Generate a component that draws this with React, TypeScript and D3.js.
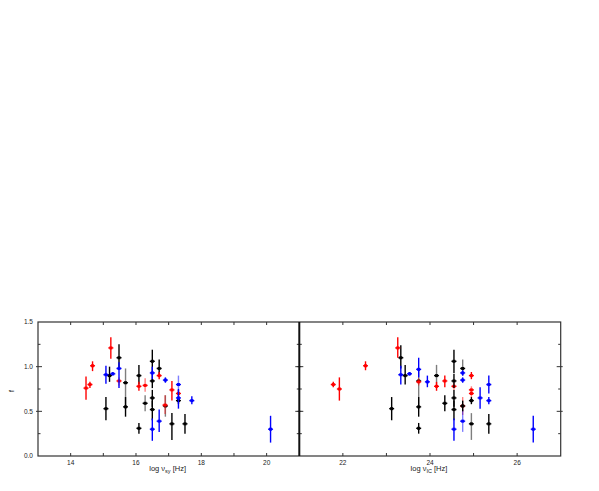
import React from 'react';
import * as d3 from 'd3';

// each point: [log nu, f, f low, f high]
type Pt = [number, number, number, number];

const syRed: Pt[] = [
  [14.47, 0.76, 0.63, 0.89], [14.59, 0.8, 0.76, 0.83], [14.67, 1.01, 0.95, 1.06],
  [15.23, 1.21, 1.09, 1.33], [16.09, 0.78, 0.73, 0.83], [16.71, 0.9, 0.86, 0.94],
  [17.1, 0.74, 0.62, 0.84], [17.3, 0.7, 0.66, 0.74],
];
const syRedFaded: Pt[] = [
  [15.48, 0.84, 0.79, 0.88], [16.28, 0.79, 0.72, 0.87], [16.89, 0.57, 0.47, 0.68],
];
const syBlack: Pt[] = [
  [15.08, 0.53, 0.4, 0.66], [15.19, 0.9, 0.83, 1.0], [15.48, 1.1, 0.98, 1.25],
  [15.68, 0.55, 0.44, 0.66], [16.09, 0.9, 0.8, 1.02], [16.09, 0.31, 0.25, 0.37],
  [16.5, 1.06, 0.93, 1.19], [16.5, 0.84, 0.76, 0.92], [16.5, 0.65, 0.55, 0.74],
  [16.5, 0.52, 0.4, 0.62], [16.71, 0.98, 0.9, 1.08], [17.1, 0.36, 0.18, 0.48],
  [17.3, 0.62, 0.58, 0.66], [17.5, 0.36, 0.25, 0.47],
];
const syBlackFaded: Pt[] = [
  [15.68, 0.82, 0.57, 0.98], [16.28, 0.59, 0.5, 0.68], [16.9, 0.56, 0.44, 0.68],
];
const syBlue: Pt[] = [
  [15.08, 0.91, 0.81, 1.01], [15.29, 0.92, 0.9, 0.94], [15.48, 0.98, 0.76, 1.05],
  [16.5, 0.93, 0.86, 1.0], [16.5, 0.3, 0.17, 0.42], [16.71, 0.39, 0.27, 0.52],
  [16.9, 0.85, 0.82, 0.88], [17.3, 0.65, 0.53, 0.75], [17.71, 0.62, 0.58, 0.67],
  [20.12, 0.3, 0.15, 0.45],
];
const syBlueFaded: Pt[] = [
  [17.3, 0.8, 0.7, 0.9],
];

const icRed: Pt[] = [
  [21.78, 0.8, 0.77, 0.83], [21.92, 0.75, 0.62, 0.88], [22.52, 1.01, 0.96, 1.06],
  [23.26, 1.21, 1.1, 1.33], [24.15, 0.78, 0.73, 0.83], [24.34, 0.84, 0.77, 0.9],
  [24.95, 0.9, 0.86, 0.94],
];
const icRedFaded: Pt[] = [
  [23.74, 0.83, 0.79, 0.87], [24.55, 0.78, 0.74, 0.82], [24.95, 0.74, 0.7, 0.78],
  [24.95, 0.7, 0.66, 0.74], [24.75, 0.56, 0.46, 0.66],
];
const icBlack: Pt[] = [
  [23.12, 0.53, 0.4, 0.66], [23.33, 1.1, 0.98, 1.24], [23.43, 0.9, 0.8, 1.02],
  [23.74, 0.55, 0.44, 0.66], [23.74, 0.31, 0.25, 0.37], [24.34, 0.59, 0.5, 0.68],
  [24.55, 1.06, 0.93, 1.19], [24.55, 0.84, 0.76, 0.92], [24.55, 0.65, 0.55, 0.74],
  [24.55, 0.52, 0.4, 0.62], [24.75, 0.56, 0.5, 0.62], [24.95, 0.62, 0.58, 0.66],
  [25.35, 0.36, 0.25, 0.47],
];
const icBlackFaded: Pt[] = [
  [23.74, 0.84, 0.57, 0.98], [24.15, 0.9, 0.8, 1.02], [24.75, 0.98, 0.9, 1.08],
  [24.95, 0.36, 0.18, 0.48],
];
const icBlue: Pt[] = [
  [23.33, 0.91, 0.8, 1.01], [23.53, 0.92, 0.9, 0.94], [23.74, 0.97, 0.88, 1.1],
  [23.94, 0.83, 0.77, 0.9], [24.55, 0.3, 0.17, 0.42], [24.75, 0.93, 0.9, 0.96],
  [24.75, 0.85, 0.82, 0.88], [25.15, 0.65, 0.53, 0.77], [25.35, 0.8, 0.7, 0.9],
  [25.35, 0.62, 0.58, 0.66], [26.37, 0.3, 0.15, 0.45],
];
const icBlueFaded: Pt[] = [
  [24.75, 0.39, 0.27, 0.52],
];

const syTicks = [14, 15, 16, 17, 18, 19, 20];
const syLabels = [14, 16, 18, 20];
const icTicks = [22, 23, 24, 25, 26];
const icLabels = [22, 24, 26];
const fTicks = [0.25, 0.5, 0.75, 1.0, 1.25];
const fLabels = [0.0, 0.5, 1.0, 1.5];

const top = 322;
const bottom = 456;
const yScale = d3.scaleLinear().domain([0, 1.5]).range([bottom, top]);
const axisColor = '#333';
const font = 'Liberation Sans, Arial, sans-serif';

// faded series: only the error bar is pale, the marker stays solid
const Series = ({ data, x, color, faded }: { data: Pt[]; x: d3.ScaleLinear<number, number>; color: string; faded?: boolean }) => (
  <g>
    {data.map((d, i) => (
      <g key={i}>
        <line x1={x(d[0])} x2={x(d[0])} y1={yScale(d[2])} y2={yScale(d[3])} stroke={color} strokeWidth={1.4} opacity={faded ? 0.5 : 1} />
        <line x1={x(d[0]) - 2.5} x2={x(d[0]) + 2.5} y1={yScale(d[1])} y2={yScale(d[1])} stroke={color} strokeWidth={1.4} />
        <rect x={x(d[0]) - 1.5} y={yScale(d[1]) - 1.5} width={3} height={3} fill={color} />
      </g>
    ))}
  </g>
);

const Panel = ({ x, ticks, labels, sub, faded, solid }: any) => {
  const [x0, x1] = x.range();
  return (
    <g>
      {ticks.map((t: number) => (
        <g key={t}>
          <line x1={x(t)} x2={x(t)} y1={bottom} y2={bottom - 3} stroke={axisColor} />
          <line x1={x(t)} x2={x(t)} y1={top} y2={top + 3} stroke={axisColor} />
        </g>
      ))}
      {labels.map((t: number) => (
        <text key={t} x={x(t)} y={464.5} textAnchor="middle" fontSize={6.5} fontFamily={font} fill="#222">{t}</text>
      ))}
      {fTicks.map((t) => {
        const major = t === 0.5 || t === 1.0;
        return (
          <g key={t}>
            <line x1={x0 - (major ? 2 : 0)} x2={x0 + (major ? 4 : 2.5)} y1={yScale(t)} y2={yScale(t)} stroke={axisColor} />
            <line x1={x1 + (major ? 2 : 0)} x2={x1 - (major ? 4 : 2.5)} y1={yScale(t)} y2={yScale(t)} stroke={axisColor} />
          </g>
        );
      })}
      {faded.map((s: any, i: number) => <Series key={'f' + i} data={s[0]} color={s[1]} x={x} faded />)}
      {solid.map((s: any, i: number) => <Series key={'s' + i} data={s[0]} color={s[1]} x={x} />)}
      <text x={(x0 + x1) / 2 - 1} y={471} textAnchor="middle" fontSize={7.5} fontFamily={font} fill="#222">
        log ν<tspan fontSize={5.5} dy={2}>{sub}</tspan><tspan dy={-2}> [Hz]</tspan>
      </text>
    </g>
  );
};

export default function App() {
  const xSy = d3.scaleLinear().domain([13, 21]).range([38, 299.3]);
  const xIc = d3.scaleLinear().domain([21, 27]).range([299.3, 560.7]);
  return (
    <svg width={599} height={491} style={{ position: 'absolute', left: 0, top: 0, background: '#fff' }}>
      <Panel x={xSy} ticks={syTicks} labels={syLabels} sub="sy"
        faded={[[syBlackFaded, '#000'], [syRedFaded, '#ff0000'], [syBlueFaded, '#0000ff']]}
        solid={[[syBlack, '#000'], [syRed, '#ff0000'], [syBlue, '#0000ff']]} />
      <Panel x={xIc} ticks={icTicks} labels={icLabels} sub="IC"
        faded={[[icBlackFaded, '#000'], [icRedFaded, '#ff0000'], [icBlueFaded, '#0000ff']]}
        solid={[[icBlack, '#000'], [icRed, '#ff0000'], [icBlue, '#0000ff']]} />
      {fLabels.map((t) => (
        <text key={t} x={33} y={yScale(t) + 2.3} textAnchor="end" fontSize={6.5} fontFamily={font} fill="#222">{t.toFixed(1)}</text>
      ))}
      <text transform={`translate(14, 391) rotate(-90)`} textAnchor="middle" fontSize={7} fontFamily={font} fill="#222">f</text>
      <rect x={38} y={top} width={560.7 - 38} height={bottom - top} fill="none" stroke={axisColor} strokeWidth={1.2} />
      <line x1={299.3} x2={299.3} y1={top} y2={bottom} stroke="#111" strokeWidth={2} />
    </svg>
  );
}
